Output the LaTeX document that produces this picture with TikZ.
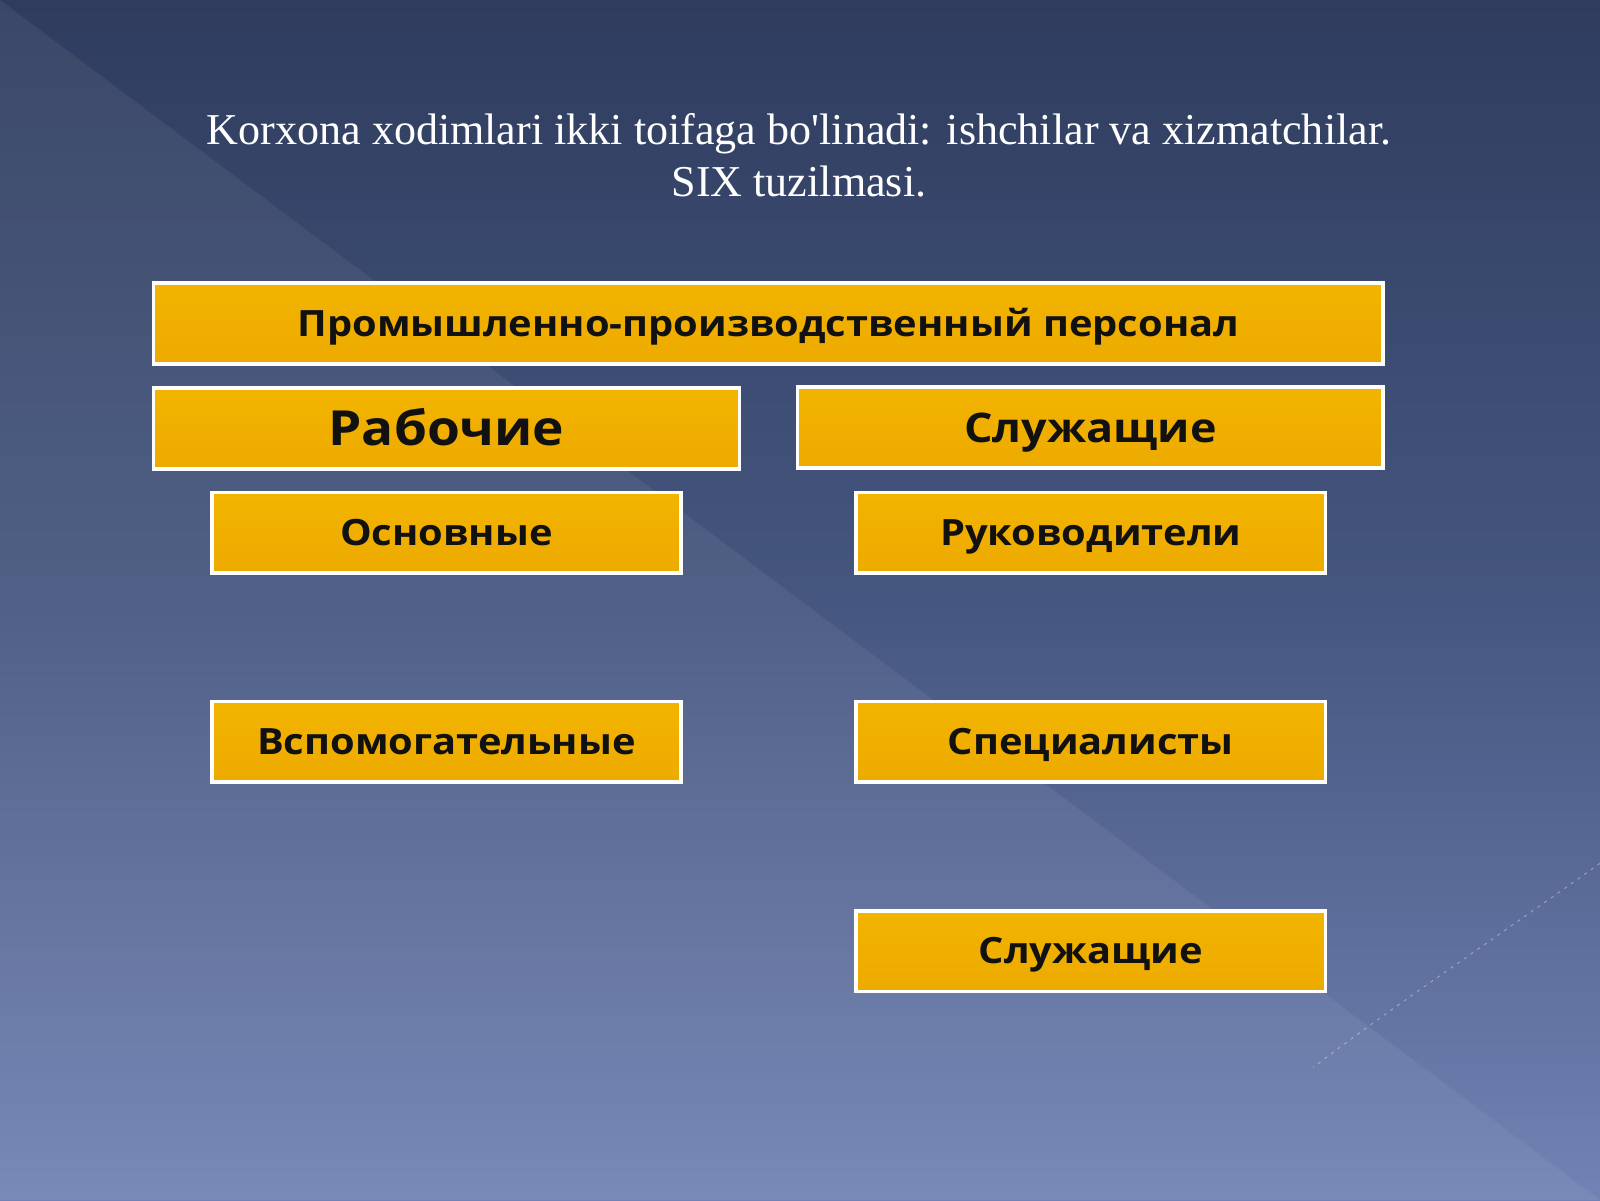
\documentclass[tikz,border=0pt]{standalone}
\usepackage{fontspec}
\setmainfont{Liberation Serif}
\newfontfamily\boxfont{Open Sans}[BoldFont={* Bold}, FakeStretch=1.1]
\usetikzlibrary{shadows}
\definecolor{bgtop}{HTML}{2F3C5E}
\definecolor{bgmid}{HTML}{45567F}
\definecolor{bgbot}{HTML}{7182B4}
\definecolor{boxfilltop}{HTML}{F3B400}
\definecolor{boxfillbot}{HTML}{EDAA00}
\definecolor{txt}{HTML}{111111}
\tikzset{
  orgbox/.style={draw=white, line width=3.5pt, top color=boxfilltop, bottom color=boxfillbot,
    minimum height=79pt, inner sep=0pt, text=txt, text height=25.3pt, text depth=0pt,
    font=\boxfont\bfseries\fontsize{35.5}{40}\selectfont,
    drop shadow={shadow xshift=1.5pt, shadow yshift=-2pt, opacity=0.35, fill=black!80}},
  titletext/.style={text=white, align=center, font=\fontsize{43.2}{51}\selectfont, inner sep=0pt}
}
\begin{document}
\begin{tikzpicture}[x=1pt,y=-1pt]
\useasboundingbox (0,0) rectangle (1568,1176);
% background
\shade[top color=bgtop, bottom color=bgbot, middle color=bgmid] (0,0) rectangle (1568,1176);
\fill[white, opacity=0.06] (0,0) -- (1568,1176) -- (0,1176) -- cycle;
\draw[white, opacity=0.35, line width=1pt, dash pattern=on 3pt off 5pt] (1568,846) .. controls (1450,930) and (1360,990) .. (1287,1046);
% title
\node[titletext, anchor=base] (t1) at (783,142) {Korxona xodimlari ikki toifaga bo\textquotesingle linadi: ishchilar va xizmatchilar.};
\node[titletext, anchor=base] (t2) at (783,193) {SIX tuzilmasi.};
% boxes
\node[orgbox, minimum width=1205pt] (ppp) at (753,317) {Промышленно-производственный персонал};
\node[orgbox, minimum width=574pt, text height=33.8pt, font=\boxfont\bfseries\fontsize{47.4}{54}\selectfont] (rab) at (437.5,420) {Рабочие};
\node[orgbox, minimum width=574pt, text height=28.6pt, font=\boxfont\bfseries\fontsize{40}{44}\selectfont] (slu) at (1068.5,419) {Служащие};
\node[orgbox, minimum width=460pt] (osn) at (437.5,522) {Основные};
\node[orgbox, minimum width=460pt] (ruk) at (1069,522) {Руководители};
\node[orgbox, minimum width=460pt] (vsp) at (437.5,727) {Вспомогательные};
\node[orgbox, minimum width=460pt] (spe) at (1069,727) {Специалисты};
\node[orgbox, minimum width=460pt] (slb) at (1069,932) {Служащие};
\end{tikzpicture}
\end{document}
